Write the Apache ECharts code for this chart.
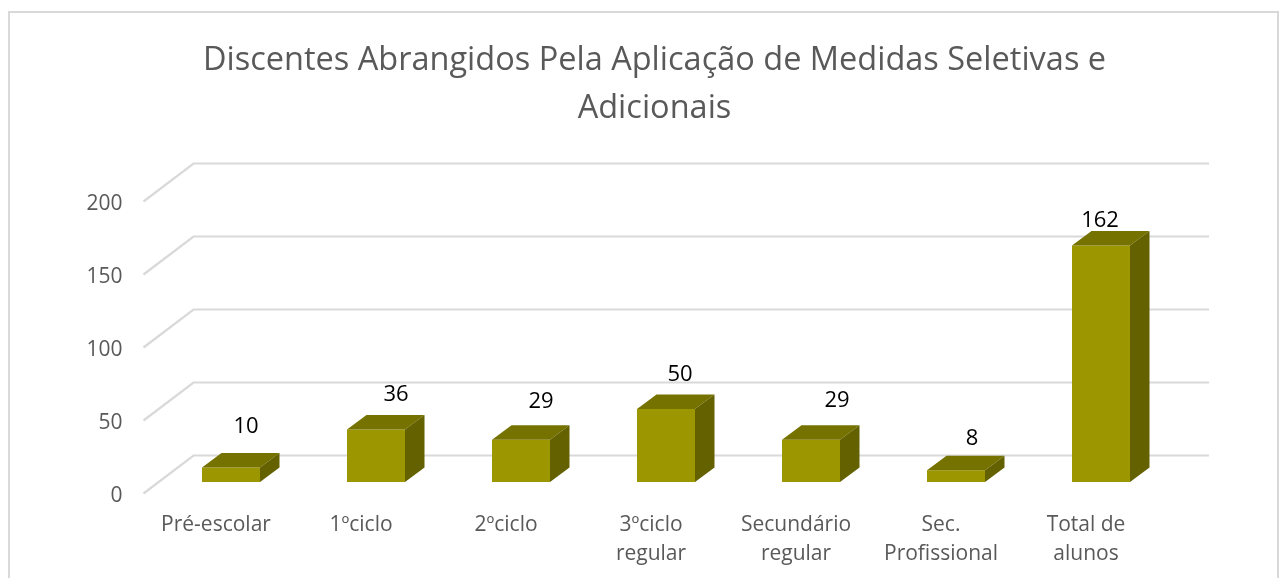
<!DOCTYPE html>
<html>
<head>
<meta charset="utf-8">
<style>
  html, body { margin: 0; padding: 0; background: #fff; }
  #chart-container { width: 1288px; height: 578px; }
</style>
<script src="https://cdn.jsdelivr.net/npm/echarts@6/dist/echarts.min.js"></script>
</head>
<body>
<div id="chart-container"></div>
<script>
const titleText = 'Discentes Abrangidos Pela Aplicação de Medidas Seletivas e\nAdicionais';
const categories = ['Pré-escolar', '1ºciclo', '2ºciclo', '3ºciclo\nregular', 'Secundário\nregular', 'Sec.\nProfissional', 'Total de\nalunos'];
const alunos = [10, 36, 29, 50, 29, 8, 162];
const yTicks = [0, 50, 100, 150, 200];

// the labels sit by hand in the original, not at a fixed spot over the bar
const labelDx = [15, 20, 20, 14, 26, 16, -1];
const labelDy = [26, 20, 23, 20, 24, 17, 10];

const fontFamily = '"Open Sans", sans-serif';
const wallDx = 50, wallDy = 38;      // side walls of the 3D box
const barShiftX = 15, barShiftY = 11.5;
const depthX = 19.5, depthY = 14.5;

var chartDom = document.getElementById('chart-container');
var myChart = echarts.init(chartDom);

function renderWall(params, api) {
  var c = params.coordSys;
  var y = api.coord([0, api.value(1)])[1];
  return {
    type: 'polyline',
    shape: { points: [[c.x, y], [c.x + wallDx, y - wallDy], [c.x + c.width + wallDx + 0.5, y - wallDy]] },
    style: { stroke: '#d9d9d9', lineWidth: 2.2, fill: null }
  };
}

function renderBar(params, api) {
  var i = api.value(0);
  var top = api.coord([i, api.value(1)]);
  var base = api.coord([i, 0]);
  var w = api.size([1, 0])[0] * 0.4;
  var x0 = top[0] + barShiftX - w / 2;
  var x1 = x0 + w;
  var y0 = top[1] - barShiftY;
  var y1 = base[1] - barShiftY;
  return {
    type: 'group',
    children: [
      {
        type: 'polygon',
        shape: { points: [[x0, y1], [x1, y1], [x1, y0], [x0, y0]] },
        style: { fill: '#9c9600' }
      },
      {
        type: 'polygon',
        shape: { points: [[x0, y0], [x1, y0], [x1 + depthX, y0 - depthY], [x0 + depthX, y0 - depthY]] },
        style: { fill: '#767200' }
      },
      {
        type: 'polygon',
        shape: { points: [[x1, y1], [x1 + depthX, y1 - depthY], [x1 + depthX, y0 - depthY], [x1, y0]] },
        style: { fill: '#646100' }
      },
      {
        type: 'text',
        style: {
          x: x0 + w / 2 + labelDx[i],
          y: y0 - depthY - labelDy[i],
          text: String(api.value(1)),
          fill: '#000',
          fontSize: 22,
          fontFamily: fontFamily,
          align: 'center',
          verticalAlign: 'middle'
        }
      }
    ]
  };
}

var option = {
  animation: false,
  backgroundColor: '#fff',
  title: {
    text: titleText,
    left: 649.5,
    top: 32,
    textAlign: 'center',
    textStyle: { color: '#595959', fontSize: 32.5, fontWeight: 'normal', fontFamily: fontFamily, lineHeight: 48 }
  },
  graphic: [{
    type: 'rect',
    shape: { x: 9, y: 12, width: 1269, height: 600 },
    style: { fill: 'none', stroke: '#d9d9d9', lineWidth: 2 },
    silent: true
  }],
  grid: { left: 143.5, top: 201.5, width: 1015, height: 292 },
  xAxis: {
    type: 'category',
    data: categories,
    axisLine: { show: false },
    axisTick: { show: false },
    axisLabel: { color: '#595959', fontSize: 21, fontFamily: fontFamily, lineHeight: 29, margin: 17, interval: 0 }
  },
  yAxis: {
    type: 'value',
    min: 0,
    max: 200,
    interval: 50,
    splitLine: { show: false },
    axisLine: { show: false },
    axisTick: { show: false },
    axisLabel: {
      margin: 21,
      formatter: '{a|{value}}',
      rich: { a: { color: '#595959', fontSize: 21, fontFamily: fontFamily, padding: [5, 0, 0, 0] } }
    }
  },
  series: [
    {
      type: 'custom',
      name: 'paredes',
      clip: false,
      silent: true,
      z: 1,
      encode: { x: 0, y: 1 },
      data: yTicks.map(function (v) { return [0, v]; }),
      renderItem: renderWall
    },
    {
      type: 'custom',
      name: 'alunos',
      clip: false,
      z: 2,
      encode: { x: 0, y: 1 },
      data: alunos.map(function (v, i) { return [i, v]; }),
      renderItem: renderBar
    }
  ]
};

option && myChart.setOption(option);
</script>
</body>
</html>
